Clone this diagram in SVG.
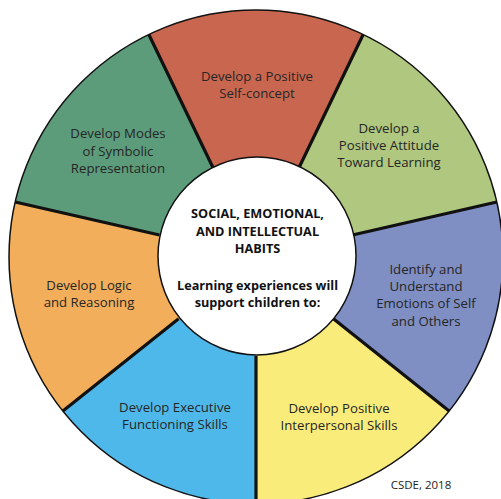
<svg xmlns="http://www.w3.org/2000/svg" width="501" height="499" viewBox="0 0 501 499">
<style>
.seg{stroke:none}
.lbl{font-family:"Open Sans","Liberation Sans",sans-serif;font-size:13.2px;fill:#262626;text-anchor:middle}
.ctr{font-family:"Open Sans","Liberation Sans",sans-serif;font-size:12.7px;font-weight:bold;fill:#111;text-anchor:middle}
.div{stroke:#111;stroke-width:3.2;fill:none}
.rim{stroke:#111;stroke-width:1.5;fill:none}
</style>
<rect width="501" height="499" fill="#fff"/>
<g id="seg-executive">
<path class="seg" fill="#4FB8EA" d="M256,257 L256,504 A247,247 0 0 1 62.89,411 Z"/>
<text class="lbl" x="175" y="412">Develop Executive</text>
<text class="lbl" x="175" y="429">Functioning Skills</text>
</g>
<g id="seg-logic">
<path class="seg" fill="#F2AE5A" d="M256,257 L62.89,411 A247,247 0 0 1 15.19,202.04 Z"/>
<text class="lbl" x="89" y="290">Develop Logic</text>
<text class="lbl" x="89" y="307">and Reasoning</text>
</g>
<g id="seg-symbolic">
<path class="seg" fill="#5C9C7B" d="M256,257 L15.19,202.04 A247,247 0 0 1 148.83,34.46 Z"/>
<text class="lbl" x="118" y="138">Develop Modes</text>
<text class="lbl" x="118" y="156">of Symbolic</text>
<text class="lbl" x="118" y="173">Representation</text>
</g>
<g id="seg-selfconcept">
<path class="seg" fill="#C9664F" d="M256,257 L148.83,34.46 A247,247 0 0 1 363.17,34.46 Z"/>
<text class="lbl" x="257" y="81">Develop a Positive</text>
<text class="lbl" x="257" y="98">Self-concept</text>
</g>
<g id="seg-attitude">
<path class="seg" fill="#B0C77F" d="M256,257 L363.17,34.46 A247,247 0 0 1 496.81,202.04 Z"/>
<text class="lbl" x="389" y="133">Develop a</text>
<text class="lbl" x="389" y="150">Positive Attitude</text>
<text class="lbl" x="389" y="167">Toward Learning</text>
</g>
<g id="seg-emotions">
<path class="seg" fill="#7F8EC3" d="M256,257 L496.81,202.04 A247,247 0 0 1 449.11,411 Z"/>
<text class="lbl" x="426" y="274">Identify and</text>
<text class="lbl" x="426" y="291">Understand</text>
<text class="lbl" x="426" y="308">Emotions of Self</text>
<text class="lbl" x="426" y="326">and Others</text>
</g>
<g id="seg-interpersonal">
<path class="seg" fill="#FAEC7B" d="M256,257 L449.11,411 A247,247 0 0 1 256,504 Z"/>
<text class="lbl" x="339" y="413">Develop Positive</text>
<text class="lbl" x="339" y="430">Interpersonal Skills</text>
</g>
<g id="connectors">
<line class="div" x1="256" y1="356" x2="256" y2="504"/>
<line class="div" x1="178.6" y1="318.73" x2="62.89" y2="411"/>
<line class="div" x1="159.48" y1="234.97" x2="15.19" y2="202.04"/>
<line class="div" x1="213.05" y1="167.8" x2="148.83" y2="34.46"/>
<line class="div" x1="298.95" y1="167.8" x2="363.17" y2="34.46"/>
<line class="div" x1="352.52" y1="234.97" x2="496.81" y2="202.04"/>
<line class="div" x1="333.4" y1="318.73" x2="449.11" y2="411"/>
<circle class="rim" cx="256" cy="257" r="247"/>
</g>
<g id="center">
<circle cx="257" cy="256" r="99" fill="#fff" stroke="#111" stroke-width="1.5"/>
<text class="ctr" x="257.5" y="218">SOCIAL, EMOTIONAL,</text>
<text class="ctr" x="257.5" y="236">AND INTELLECTUAL</text>
<text class="ctr" x="257.5" y="253">HABITS</text>
<text class="ctr" x="257.5" y="290">Learning experiences will</text>
<text class="ctr" x="257.5" y="307">support children to:</text>
</g>
<text id="credit" x="421" y="489" style="font-family:'Open Sans','Liberation Sans',sans-serif;font-size:11.5px;fill:#222;text-anchor:middle">CSDE, 2018</text>
</svg>
